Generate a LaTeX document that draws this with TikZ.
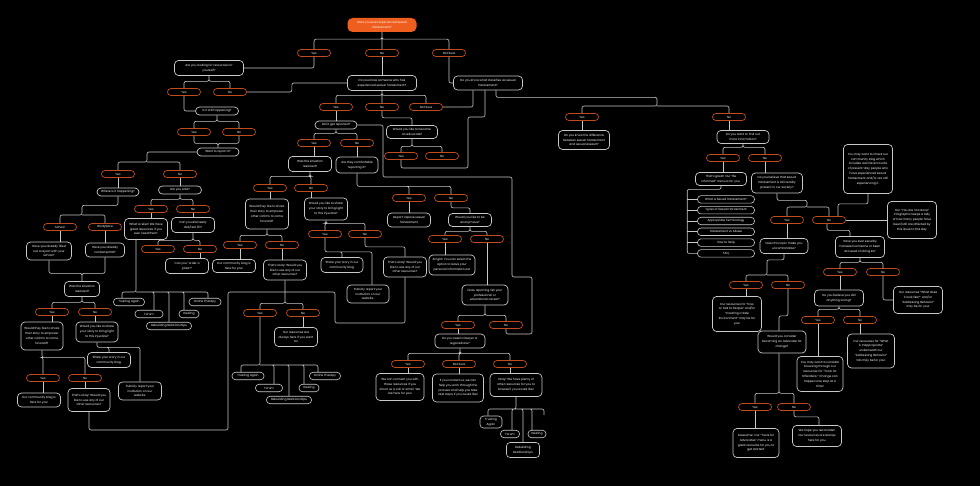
\documentclass[tikz,border=0pt]{standalone}
\usepackage{fontspec}
\setmainfont{Poppins}
\usetikzlibrary{positioning}
\definecolor{pitch}{HTML}{000000}
\definecolor{ash}{HTML}{C8C8C8}
\definecolor{rust}{HTML}{C04B1C}
\definecolor{flame}{HTML}{EE5E1E}

\begin{document}
\begin{tikzpicture}[x=1pt,y=-1pt,
    base/.style={font=\fontsize{2.95}{4.8}\selectfont,text=white,align=center,inner sep=0.5pt},
    start/.style={base,fill=flame,rounded corners=5pt,minimum width=69pt,minimum height=14pt},
    opt/.style={base,draw=rust,fill=pitch,line width=0.7pt,rounded corners=3.4pt,minimum width=33pt,minimum height=7pt},
    ask/.style={base,draw=ash,fill=pitch,line width=0.7pt,rounded corners=4pt},
    tab/.style={base,draw=ash,fill=pitch,line width=0.6pt,rounded corners=3.5pt,minimum height=7.5pt},
    sz/.style 2 args={minimum width=#1pt,minimum height=#2pt},
    link/.style={draw=ash,line width=0.6pt,rounded corners=2pt},
    bus/.style={to path={-- ++(0,#1) -| (\tikztotarget)}}]

  \fill[pitch] (0,0) rectangle (980,486);

  % first question
  \node[start] (root) at (382,25) {Have you ever experienced sexual\\harassment?};
  \node[opt] (r-yes) at (314,53) {Yes};
  \node[opt] (r-no) at (382,53) {No};
  \node[opt] (r-ns) at (449,53) {Not Sure};

  % left: for yourself
  \node[ask,sz={69}{15}] (self) at (209,68) {Are you looking for resources for\\yourself?};
  \node[opt] (self-yes) at (184,92) {Yes};
  \node[opt] (self-no) at (230,92) {No};
  \node[ask,sz={43}{8}] (happening) at (217,111) {Is it still happening?};
  \node[opt] (hap-yes) at (194,132) {Yes};
  \node[opt] (hap-no) at (239,132) {No};
  \node[ask,sz={42}{8}] (wantrep) at (218,152) {Want to report it?};
  \node[opt] (want-yes) at (118,174) {Yes};
  \node[opt] (want-no) at (180,174) {No};
  \node[ask,sz={42}{8}] (where) at (118,192) {Where is it happening?};
  \node[opt] (school) at (60,227) {School};
  \node[opt] (workplace) at (105,227) {Workplace};
  \node[ask,sz={45}{18}] (filled) at (49,251) {Have you already filled\\out a report with your\\school?};
  \node[ask,sz={39}{14}] (hr) at (105,250) {Have you already\\contacted HR?};
  \node[ask,sz={35}{15}] (resolvedA) at (82,289) {Was the situation\\resolved?};
  \node[opt] (resA-yes) at (52,312) {Yes};
  \node[opt] (resA-no) at (95,312) {No};
  \node[ask,sz={42}{28}] (shareA) at (42,336) {Would they like to share\\their story to empower\\other victims to come\\forward?};
  \node[ask,sz={42}{20}] (lightA) at (97,332) {Would you like to share\\your story to bring light\\to this injustice?};
  \node[opt] (shA-yes) at (43,378) {Yes};
  \node[opt] (shA-no) at (85,378) {No};
  \node[ask,sz={43}{14}] (blogA) at (39,400) {Our community blog is\\here for you!};
  \node[ask,sz={42}{23}] (okayA) at (89,400) {That's okay! Would you\\like to use any of our\\other resources?};
  \node[ask,sz={43}{15}] (storyA) at (109,360) {Share your story in our\\community blog.};
  \node[ask,sz={43}{18}] (publicA) at (140,391) {Publicly report your\\institution on our\\website.};

  \node[ask,sz={43}{8}] (safe) at (180,190) {Are you safe?};
  \node[opt] (safe-yes) at (151,209) {Yes};
  \node[opt] (safe-no) at (193,209) {No};
  \node[ask,sz={43}{21}] (relief) at (146,229) {What a relief! We have\\great resources if you\\ever need them:};
  \node[ask,sz={43}{15}] (dial) at (193,225) {Can you discreetly\\dial/text 911?};
  \node[opt] (dial-yes) at (158,249) {Yes};
  \node[opt] (dial-no) at (200,249) {No};
  \node[ask,sz={43}{15}] (pizza) at (187,266) {Can you “order a\\pizza”?};
  \node[tab,minimum width=31pt] (trustA) at (129,302) {Trusting Again};
  \node[tab,minimum width=32pt] (onlineA) at (205,302) {Online Therapy};
  \node[tab,minimum width=28pt] (forumA) at (149,314) {Forum};
  \node[tab,minimum width=20pt] (healA) at (189,314) {Healing};
  \node[tab,minimum width=45pt] (rebuildA) at (169,326) {Rebuilding Relationships};

  % middle: someone else
  \node[ask,sz={69}{15}] (know) at (382,83) {Do you know someone who has\\experienced sexual harassment?};
  \node[opt] (know-yes) at (336,107) {Yes};
  \node[opt] (know-no) at (382,107) {No};
  \node[opt] (know-ns) at (426,107) {Not Sure};
  \node[ask,sz={42}{8}] (reported) at (336,125) {Did it get reported?};
  \node[opt] (rep-yes) at (314,143) {Yes};
  \node[opt] (rep-no) at (357,143) {No};
  \node[ask,sz={43}{15}] (resolvedB) at (310,164) {Was the situation\\resolved?};
  \node[ask,sz={42}{16}] (comfort) at (357,165) {Are they comfortable\\reporting it?};
  \node[opt] (resB-yes) at (270,188) {Yes};
  \node[opt] (resB-no) at (311,188) {No};
  \node[ask,sz={43}{30}] (shareB) at (267,214) {Would they like to share\\their story to empower\\other victims to come\\forward?};
  \node[ask,sz={43}{22}] (lightB) at (326,209) {Would you like to share\\your story to bring light\\to this injustice?};
  \node[opt] (shB-yes) at (240,245) {Yes};
  \node[opt] (shB-no) at (282,245) {No};
  \node[ask,sz={43}{13}] (blogB) at (234,266) {Our community blog is\\here for you!};
  \node[ask,sz={43}{20}] (okayB) at (285,270) {That's okay! Would you\\like to use any of our\\other resources?};
  \node[opt] (okB-yes) at (260,313) {Yes};
  \node[opt] (okB-no) at (303,313) {No};
  \node[ask,sz={43}{19}] (alwaysB) at (296,337) {Our resources are\\always here if you want\\to!};
  \node[tab,minimum width=32pt] (trustB) at (248,376) {Trusting Again};
  \node[tab,minimum width=31pt] (onlineB) at (325,376) {Online Therapy};
  \node[tab,minimum width=27pt] (forumB) at (269,388) {Forum};
  \node[tab,minimum width=20pt] (healB) at (309,388) {Healing};
  \node[tab,minimum width=45pt] (rebuildB) at (289,400) {Rebuilding Relationships};
  \node[opt] (ltB-yes) at (325,234) {Yes};
  \node[opt] (ltB-no) at (365,234) {No};
  \node[ask,sz={42}{15}] (storyB) at (342,265) {Share your story in our\\community blog.};
  \node[ask,sz={42}{18}] (publicB) at (368,294) {Publicly report your\\institution on our\\website.};
  \node[ask,sz={43}{20}] (okayC) at (405,267) {That's okay! Would you\\like to use any of our\\other resources?};

  \node[ask,sz={51}{13}] (advocate) at (412,132) {Would you like to become\\an advocate?};
  \node[opt] (adv-yes) at (401,156) {Yes};
  \node[opt] (adv-no) at (442,156) {No};
  \node[ask,sz={69}{14}] (classify) at (488,83) {Do you know what classifies as sexual\\harassment?};
  \node[opt] (comf-yes) at (409,198) {Yes};
  \node[opt] (comf-no) at (451,198) {No};
  \node[ask,sz={43}{14}] (expose) at (409,220) {Report: Expose sexual\\harassment};
  \node[ask,sz={43}{13}] (anon) at (470,220) {Would you like to be\\anonymous?};
  \node[opt] (anon-yes) at (445,239) {Yes};
  \node[opt] (anon-no) at (487,239) {No};
  \node[ask,sz={46}{20}] (alright) at (452,265) {Alright! You can select the\\option to leave your\\personal information out};
  \node[ask,sz={46}{20}] (risk) at (485,295) {Does reporting risk your\\professional or\\educational career?};
  \node[opt] (risk-yes) at (458,325) {Yes};
  \node[opt] (risk-no) at (506,325) {No};
  \node[ask,sz={50}{14}] (lawyer) at (460,341) {Do you need a lawyer or\\legal advice?};
  \node[opt] (law-yes) at (408,364) {Yes};
  \node[opt] (law-ns) at (459,364) {Not Sure};
  \node[opt] (law-no) at (510,364) {No};
  \node[ask,sz={48}{27}] (connect) at (400,387) {We can connect you with\\those resources if you\\shoot us a call or email. We\\are here for you!};
  \node[ask,sz={51}{28}] (contact) at (458,388) {If you contact us, we can\\help you work through the\\process and help you take\\next steps if you would like!};
  \node[ask,sz={52}{23}] (plenty) at (516,385) {Okay! We have plenty of\\other resources for you to\\browse if you would like!};
  \node[tab,minimum width=22pt,minimum height=12pt] (trustC) at (491,422) {Trusting\\Again};
  \node[tab,minimum width=19pt] (forumC) at (510,434) {Forum};
  \node[tab,minimum width=18pt] (healC) at (537,434) {Healing};
  \node[tab,minimum width=33pt,minimum height=15pt] (rebuildC) at (523,450) {Rebuilding\\Relationships};

  % right: what classifies
  \node[opt] (cl-yes) at (582,117) {Yes};
  \node[opt] (cl-no) at (729,117) {No};
  \node[ask,sz={51}{19}] (difference) at (584,140) {Do you know the difference\\between sexual harassment\\and sexual assault?};
  \node[ask,sz={52}{13}] (moreinfo) at (743,137) {Do you want to find out\\more information?};
  \node[opt] (mi-yes) at (723,158) {Yes};
  \node[opt] (mi-no) at (765,158) {No};
  \node[ask,sz={51}{13}] (great) at (721,179) {That's great! Our “Be\\Informed” menu is for you.};
  \foreach \lbl [count=\i] in {What is Sexual Harassment?,Types of Sexual Harassment,Appropriate Terminology,Harassment vs Abuse,How to Help,FAQ}
    \node[tab,minimum width=57pt] (menu\i) at (726,188.6+10.8*\i) {\lbl};
  \node[ask,sz={51}{20}] (present) at (777,183) {Do you believe that sexual\\harassment is still readily\\present in our society?};
  \node[opt] (pr-yes) at (787,220) {Yes};
  \node[opt] (pr-no) at (829,220) {No};
  \node[ask,sz={49}{49}] (checkblog) at (868,169) {You may want to check our\\community blog which\\includes real life accounts\\of present-day people who\\have experienced sexual\\harassment and/or are still\\experiencing it.};
  \node[ask,sz={49}{37}] (alone) at (912,220) {Our “You are not alone”\\infographic keeps a tally\\of how many people have\\been/still are affected by\\this issue to this day};
  \node[ask,sz={48}{15}] (topic) at (784,246) {Does this topic make you\\uncomfortable?};
  \node[opt] (tp-yes) at (746,285) {Yes};
  \node[opt] (tp-no) at (788,285) {No};
  \node[ask,sz={49}{35}] (howtalk) at (737,314) {Our resources for “How\\to Talk to People” and/or\\“Creating a Safe\\Environment” may be for\\you!};
  \node[ask,sz={48}{22}] (advchange) at (782,342) {Would you consider\\becoming an advocate for\\change?};
  \node[opt] (ac-yes) at (755,407) {Yes};
  \node[opt] (ac-no) at (794,407) {No};
  \node[ask,sz={46}{29}] (awesome) at (756,443) {Awesome! Our “Tools for\\Advocates” menu is a\\great resource for you to\\get started!};
  \node[ask,sz={49}{21}] (reconsider) at (817,436) {We hope you reconsider!\\Our resources are always\\here for you.};
  \node[ask,sz={49}{21}] (harassed) at (860,247) {Have you ever sexually\\harassed someone or been\\accused of doing so?};
  \node[opt] (hs-yes) at (840,272) {Yes};
  \node[opt] (hs-no) at (883,272) {No};
  \node[ask,sz={49}{27}] (lookslike) at (918,300) {Our resources “What does\\it look like?” and/or\\“Addressing Behavior”\\may be for you!};
  \node[ask,sz={49}{16}] (wrong) at (839,298) {Do you believe you did\\anything wrong?};
  \node[opt] (wr-yes) at (818,320) {Yes};
  \node[opt] (wr-no) at (860,320) {No};
  \node[ask,sz={46}{35}] (offenders) at (820,374) {You may want to consider\\browsing through our\\resources for “Tools for\\Offenders.” Change can\\happen one step at a\\time!};
  \node[ask,sz={47}{34}] (inappropriate) at (871,351) {Our resources for “What\\is Inappropriate”\\underneath our\\“Addressing Behavior”\\tab may be for you!};

  % connectors, top and left
  \draw[link] (root.south) to[bus=7] (r-yes.north) (root.south) to[bus=7] (r-no.north) (root.south) to[bus=7] (r-ns.north);
  \draw[link] (r-yes.south) |- (self.east);
  \draw[link] (r-no.south) -- (know.north);
  \draw[link] (r-ns.south) |- (classify.west);
  \draw[link] (self.south) to[bus=5.5] (self-yes.north) (self.south) to[bus=5.5] (self-no.north);
  \draw[link] (self-yes.south) |- (happening.west);
  \draw[link] (self-no.east) -- ++(45,0) |- (know.west);
  \draw[link] (happening.south) to[bus=6] (hap-yes.north) (happening.south) to[bus=6] (hap-no.north);
  \draw[link] (hap-yes.south) to[bus=7.5] (wantrep.north) (hap-no.south) to[bus=7.5] (wantrep.north);
  \coordinate (wantbus) at (147,162);
  \draw[link] (wantrep.west) -| (wantbus) -| (want-yes.north) (wantbus) -| (want-no.north);
  \draw[link] (want-yes.south) -- (where.north);
  \coordinate (wherebus) at (82,215);
  \draw[link] (where.south) -- ++(0,9) -| (wherebus) -| (school.north) (wherebus) -| (workplace.north);
  \draw[link] (school.south) -- (school.south |- filled.north);
  \draw[link] (workplace.south) -- (hr.north);
  \draw[link] (filled.south) to[bus=13] (resolvedA.north) (hr.south) to[bus=16] (resolvedA.north);
  \draw[link] (resolvedA.south) to[bus=5.5] (resA-yes.north) (resolvedA.south) to[bus=5.5] (resA-no.north);
  \draw[link] (resA-yes.south) -- (resA-yes.south |- shareA.north);
  \draw[link] (resA-no.south) -- (resA-no.south |- lightA.north);
  \draw[link] (shareA.south) to[bus=7] (shA-yes.north) (shareA.south) to[bus=7] (shA-no.north);
  \draw[link] (shA-yes.south) -- (shA-yes.south |- blogA.north);
  \draw[link] (shA-no.south) -- (shA-no.south |- okayA.north);
  \draw[link] (lightA.south) to[bus=5] (storyA.north) (lightA.south) to[bus=5] (publicA.north);
  \coordinate (okturnA) at (228,430);
  \coordinate (okturnB) at (335,292);
  \coordinate (okturnC) at (335,323);
  \draw[link] (okayA.south) |- (okturnA) |- (okturnB) -- (okturnC) -| (okayC.south);
  \draw[link] (want-no.south) -- (safe.north);
  \draw[link] (safe.south) to[bus=5] (safe-yes.north) (safe.south) to[bus=5] (safe-no.north);
  \draw[link] (safe-yes.south) -- (safe-yes.south |- relief.north);
  \draw[link] (safe-no.south) -- (dial.north);
  \coordinate (reliefbus) at (136,292);
  \draw[link] ([xshift=-10pt]relief.south) -- (reliefbus) -| ([xshift=-7pt]trustA.north)
    (reliefbus) -| ([xshift=5pt]forumA.north) (reliefbus) -| (rebuildA.north)
    (reliefbus) -| ([xshift=-5pt]healA.north) (reliefbus) -| ([xshift=3pt]onlineA.north);
  \draw[link] (dial.south) to[bus=7.5] (dial-yes.north) (dial.south) to[bus=7.5] (dial-no.north);
  \draw[link] (dial-no.south) -- (dial-no.south |- pizza.north);

  % connectors, middle
  \draw[link] (know.south) to[bus=4.5] (know-yes.north) (know.south) to[bus=4.5] (know-no.north) (know.south) to[bus=4.5] (know-ns.north);
  \draw[link] (know-yes.south) -- (reported.north);
  \draw[link] (know-no.south) to[bus=7] (advocate.north);
  \draw[link] (know-ns.east) -| ([xshift=-15pt]classify.south);
  \draw[link] (reported.south) to[bus=4] (rep-yes.north) (reported.south) to[bus=4] (rep-no.north);
  \draw[link] (rep-yes.south) -- (rep-yes.south |- resolvedB.north);
  \draw[link] (rep-no.south) -- (comfort.north);
  \coordinate (backA) at (383,177);
  \coordinate (backB) at (512,277);
  \coordinate (backC) at (532,334);
  \draw[link] (reported.east) -| (backA) -| (backB) -| (backC) -| (risk-no.south);
  \draw[link] (advocate.south) to[bus=7.5] (adv-yes.north) (advocate.south) to[bus=7.5] (adv-no.north);
  \coordinate (advA) at (468,168);
  \coordinate (advB) at (485,117);
  \draw[link] (adv-yes.south) |- (advA) |- (advB) -- (advB |- classify.south);
  \draw[link] (resolvedB.south) to[bus=4.5] (resB-yes.north) (resolvedB.south) to[bus=4.5] (resB-no.north);
  \draw[link] (resB-yes.south) -- (resB-yes.south |- shareB.north);
  \draw[link] (resB-no.south) -- (resB-no.south |- lightB.north);
  \draw[link] (shareB.south) to[bus=6] (shB-yes.north) (shareB.south) to[bus=6] (shB-no.north);
  \draw[link] (shB-yes.south) -- (shB-yes.south |- blogB.north);
  \draw[link] (shB-no.south) -- (shB-no.south |- okayB.north);
  \draw[link] (okayB.south) to[bus=23] (okB-yes.north) (okayB.south) to[bus=23] (okB-no.north);
  \coordinate (okbus) at (260,365);
  \draw[link] (okB-yes.south) -- (okbus) -| ([xshift=-7pt]trustB.north)
    (okbus) -| ([xshift=5pt]forumB.north) (okbus) -| (rebuildB.north)
    (okbus) -| ([xshift=-5pt]healB.north) (okbus) -| ([xshift=-7pt]onlineB.north);
  \draw[link] (okB-no.south) -- (okB-no.south |- alwaysB.north);
  \draw[link] (lightB.south) to[bus=3] (ltB-yes.north) (lightB.south) to[bus=3] (ltB-no.north);
  \draw[link] (ltB-yes.south) to[bus=14] (storyB.north) (ltB-yes.south) to[bus=14] ([xshift=4pt]publicB.north);
  \draw[link] (ltB-no.south) to[bus=9] (okayC.north);
  \draw[link] (comfort.south) to[bus=13] (comf-yes.north) (comfort.south) to[bus=13] (comf-no.north);
  \draw[link] (comf-yes.south) -- (expose.north);
  \draw[link] (comf-no.south) to[bus=6] (anon.north);
  \draw[link] (anon.south) to[bus=4.5] (anon-yes.north) (anon.south) to[bus=4.5] (anon-no.north);
  \draw[link] (anon-yes.south) -- (anon-yes.south |- alright.north);
  \draw[link] (anon-no.south) -- (anon-no.south |- risk.north);
  \draw[link] (risk.south) to[bus=10] (risk-yes.north) (risk.south) to[bus=10] (risk-no.north);
  \draw[link] (risk-yes.south) -- (risk-yes.south |- lawyer.north);
  \draw[link] (lawyer.south) to[bus=5] (law-yes.north) (lawyer.south) to[bus=5] (law-ns.north) (lawyer.south) to[bus=5] (law-no.north);
  \draw[link] (law-yes.south) -- (law-yes.south |- connect.north);
  \draw[link] (law-ns.south) -- (law-ns.south |- contact.north);
  \draw[link] (law-no.south) -- (law-no.south |- plenty.north);
  \coordinate (plentybus) at (516,409);
  \coordinate (plentyend) at (544,415);
  \draw[link] (plenty.south) -- (plentybus) -| ([xshift=-3pt]trustC.north)
    (plentybus) -| ([xshift=2pt]forumC.north) (plentybus) -| (rebuildC.north)
    (plentybus) -| ([xshift=-5pt]healC.north) (plentybus) -| (plentyend);

  % connectors, right
  \coordinate (clbus) at (657,106);
  \draw[link] ([xshift=8pt]classify.south) -- ++(0,7) -| (clbus) -| (cl-yes.north) (clbus) -| (cl-no.north);
  \draw[link] (cl-yes.south) -- (cl-yes.south |- difference.north);
  \draw[link] (cl-no.south) -- (cl-no.south |- moreinfo.north);
  \draw[link] (moreinfo.south) to[bus=3.5] (mi-yes.north) (moreinfo.south) to[bus=3.5] (mi-no.north);
  \draw[link] (mi-yes.south) -- (mi-yes.south |- great.north);
  \draw[link] (great.south) -- ++(0,3.5) -| ([xshift=-10pt]menu6.west) -- (menu6.west);
  \foreach \i in {1,...,5}
    \draw[link] ([xshift=-10pt]menu\i.west) -- (menu\i.west);
  \draw[link] (mi-no.south) -- (mi-no.south |- present.north);
  \coordinate (prbus) at (807,207);
  \draw[link] (present.south) -- ++(0,7) -| (prbus) -| (pr-yes.north) (prbus) -| (pr-no.north);
  \draw[link] (checkblog.south) -- ++(0,10) -| ([xshift=9pt]pr-no.north);
  \draw[link] (pr-no.east) -- (alone.west);
  \draw[link] ([xshift=-2pt]pr-no.south) to[bus=6.5] ([xshift=-10pt]harassed.north);
  \draw[link] (pr-yes.south) -- (pr-yes.south |- topic.north);
  \coordinate (tpbus) at (767,275);
  \draw[link] (topic.south) -- ++(0,6) -| (tpbus) -| (tp-yes.north) (tpbus) -| (tp-no.north);
  \draw[link] (tp-yes.south) -- (tp-yes.south |- howtalk.north);
  \draw[link] (tp-no.south) to[bus=27] ([xshift=-3pt]advchange.north);
  \draw[link] ([xshift=-3pt]advchange.south) to[bus=40] (ac-yes.north) ([xshift=-3pt]advchange.south) to[bus=40] (ac-no.north);
  \draw[link] (ac-yes.south) -- (ac-yes.south |- awesome.north);
  \draw[link] (ac-no.south) to[bus=6] ([xshift=2pt]reconsider.north);
  \draw[link] (harassed.south) to[bus=4.5] (hs-yes.north) (harassed.south) to[bus=4.5] (hs-no.north);
  \draw[link] (hs-no.south) |- (lookslike.west);
  \draw[link] (hs-yes.south) -- (hs-yes.south |- wrong.north);
  \draw[link] (wrong.south) to[bus=3] (wr-yes.north) (wrong.south) to[bus=3] (wr-no.north);
  \draw[link] (wr-yes.south) -- (wr-yes.south |- offenders.north);
  \draw[link] (wr-no.south) -- (wr-no.south |- inappropriate.north);
\end{tikzpicture}
\end{document}
